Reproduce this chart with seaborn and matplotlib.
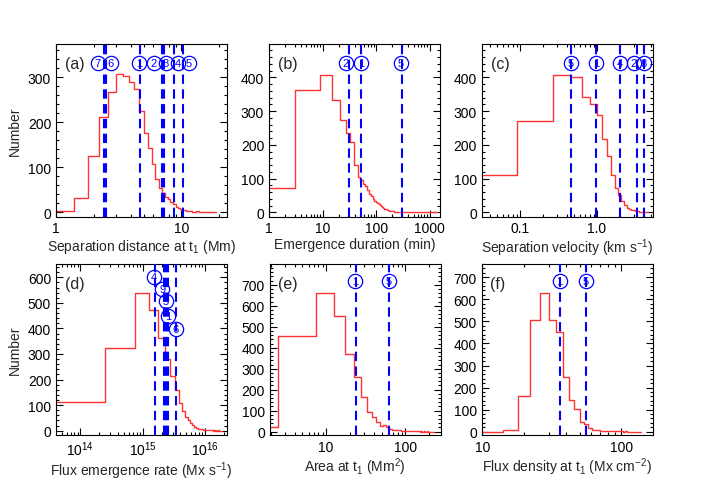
import numpy as np
import matplotlib.pyplot as plt
import seaborn as sns
from matplotlib.ticker import FixedLocator, FixedFormatter, LogLocator, NullFormatter, MultipleLocator

# (a) separation distance at t1 (Mm), linear bins of 0.4 starting at 1.0
sep_start, sep_width = 1.0, 0.4
sep_counts = [3, 32, 126, 213, 267, 307, 303, 289, 274, 225, 176, 143, 108, 74,
              55, 43, 34, 31, 24, 18, 13, 10, 8, 6, 5, 4, 3, 3, 2, 2,
              3, 3, 1, 1, 1, 2, 1, 1, 0, 1, 0, 1, 0, 0, 1]
sep_events = [7, 6, 1, 2, 3, 4, 5]
sep_lines = [2.40, 2.49, 4.70, 7.03, 7.28, 8.80, 10.25]

# (b) emergence duration (min), bins of 6 min centred on multiples of 6
dur_start, dur_width = -3, 6
dur_counts = [72, 362, 408, 332, 275, 236, 210, 140, 106, 95, 85, 77, 66, 56,
              48, 41, 35, 31, 27, 24, 21, 18, 15, 13, 11, 10, 9, 8, 6, 7,
              5, 4, 4, 3, 3, 3, 3, 2, 2, 2, 2, 1, 1, 2, 1, 1, 1, 0, 1, 1,
              0, 1, 0, 1, 0, 1]
dur_events = [2, 1, 5]
dur_lines = [31.2, 51.6, 298]

# (c) separation velocity (km/s), bins of 0.18
vel_start, vel_width = -0.09, 0.18
vel_counts = [111, 270, 408, 400, 341, 321, 289, 217, 166, 112, 73, 51, 34,
              21, 14, 11, 8, 6, 4, 3, 2, 2, 1, 1, 0, 1]
vel_events = [5, 1, 4, 2, 8]
vel_lines = [0.454, 0.98, 1.98, 3.32, 4.10]

# (d) flux emergence rate (Mx/s), bins of 5e14
rate_start, rate_width = -2.5e14, 5e14
rate_counts = [111, 323, 538, 472, 364, 280, 214, 159, 108, 75, 54, 40, 30,
               22, 15, 11, 8, 6, 5, 4, 3, 3, 2, 2, 1, 1, 1, 0, 1, 0, 1, 0,
               0, 1, 0, 0, 0, 0]
rate_events = [4, 9, 5, 1, 6]
rate_lines = [1.60e15, 2.17e15, 2.33e15, 2.51e15, 3.38e15]

# (e) area at t1 (Mm^2), bins of 5
area_start, area_width = -2.5, 5
area_counts = [22, 458, 660, 549, 371, 262, 164, 93, 69, 46, 25, 32, 20, 14,
               10, 9, 7, 6, 5, 4, 4, 3, 3, 2, 2, 2, 1, 1, 1, 1, 1, 0, 1,
               0, 0, 1, 0, 0, 1, 0, 0, 0, 0, 0, 0, 0]
area_events = [1, 5]
area_lines = [23.6, 62.5]

# (f) flux density at t1 (Mx/cm^2), bins of 4
dens_start, dens_width = 10, 4
dens_counts = [0, 8, 160, 505, 628, 507, 450, 250, 142, 104, 45, 34, 16, 9,
               6, 4, 3, 2, 2, 1, 1, 1, 1, 0, 1, 0, 0, 0, 0, 0, 0, 0]
dens_events = [1, 5]
dens_lines = [36.2, 55.6]


def bin_edges(start, width, counts, low=None):
    edges = start + width * np.arange(len(counts) + 1, dtype=float)
    if low is not None:
        edges[0] = low
    return edges


def draw_panel(ax, edges, counts, lines, events, lab_x, lab_y, xlim, ylim,
               majors, major_labels, xlabel, tag, ylabel=None):
    centers = np.sqrt(edges[:-1] * edges[1:])
    # bins given in log10 space because the axis is log scaled
    sns.histplot(x=centers, weights=counts, bins=list(np.log10(edges)), log_scale=True,
                 element='step', fill=False, color='#ff3333', linewidth=1.0, ax=ax)
    for xv in lines:
        ax.axvline(xv, color='blue', lw=1.5, ls=(0, (4.5, 2.6)), zorder=3)
    for xv, yv, n in zip(lab_x, lab_y, events):
        ax.plot(xv, yv, 'o', ms=10.3, mfc='none', mec='blue', mew=0.9, zorder=4)
        ax.text(xv, yv, str(n), color='blue', fontsize=8, ha='center',
                va='center', zorder=5)
    ax.set_xlim(*xlim)
    ax.set_ylim(*ylim)
    ax.xaxis.set_major_locator(FixedLocator(majors))
    ax.xaxis.set_major_formatter(FixedFormatter(major_labels))
    ax.xaxis.set_minor_locator(LogLocator(base=10, subs=np.arange(2, 10), numticks=30))
    ax.xaxis.set_minor_formatter(NullFormatter())
    ax.yaxis.set_major_locator(MultipleLocator(100))
    ax.yaxis.set_minor_locator(MultipleLocator(20))
    ax.tick_params(which='both', direction='in', top=True, right=True,
                   labelsize=10, width=0.8, colors='black')
    ax.tick_params(which='major', length=5)
    ax.tick_params(which='minor', length=2.5)
    ax.set_xlabel(xlabel, fontsize=10, labelpad=1)
    ax.set_ylabel(ylabel if ylabel else '', fontsize=10)
    ax.text(0.05, 0.885, tag, transform=ax.transAxes, fontsize=11.5, va='center')
    for sp in ax.spines.values():
        sp.set_linewidth(0.8)
        sp.set_color('black')


sns.set_style('ticks')
plt.rcParams['font.family'] = ['Liberation Sans', 'DejaVu Sans']
plt.rcParams['mathtext.default'] = 'regular'

fig = plt.figure(figsize=(7.09, 4.85), dpi=100)
w, h_top, h_bot = 0.2412, 0.3557, 0.3526
ax_a = fig.add_axes([0.0790, 0.5515, w, h_top])
ax_b = fig.add_axes([0.3794, 0.5515, w, h_top])
ax_c = fig.add_axes([0.6798, 0.5515, w, h_top])
ax_d = fig.add_axes([0.0790, 0.1010, w, h_bot])
ax_e = fig.add_axes([0.3804, 0.1010, w, h_bot])
ax_f = fig.add_axes([0.6794, 0.1010, w, h_bot])

draw_panel(ax_a, bin_edges(sep_start, sep_width, sep_counts), sep_counts,
           sep_lines, sep_events,
           [2.15, 2.73, 4.6, 6.05, 7.53, 9.38, 11.5], [331] * 7,
           (1, 23.2), (-9, 374), [1, 10], ['1', '10'],
           'Separation distance at t$_1$ (Mm)', '(a)', 'Number')

dur_edges = np.append(bin_edges(dur_start, dur_width, dur_counts, low=0.5), 1400)
draw_panel(ax_b, dur_edges, dur_counts + [0], dur_lines, dur_events,
           [27.4, 52.4, 290], [443] * 3,
           (1, 1560), (-12, 499), [1, 10, 100, 1000], ['1', '10', '100', '1000'],
           'Emergence duration (min)', '(b)')

draw_panel(ax_c, bin_edges(vel_start, vel_width, vel_counts, low=0.02), vel_counts,
           vel_lines, vel_events,
           [0.454, 0.98, 1.98, 3.04, 4.1], [443] * 5,
           (0.0316, 5.37), (-12, 499), [0.1, 1.0], ['0.1', '1.0'],
           'Separation velocity (km s$^{-1}$)', '(c)')

draw_panel(ax_d, bin_edges(rate_start, rate_width, rate_counts, low=1e13), rate_counts,
           rate_lines, rate_events,
           [1.52e15, 2.05e15, 2.33e15, 2.58e15, 3.4e15], [600, 554, 506, 450, 398],
           (4.05e13, 2.25e16), (-17, 652), [1e14, 1e15, 1e16],
           ['10$^{14}$', '10$^{15}$', '10$^{16}$'],
           'Flux emergence rate (Mx s$^{-1}$)', '(d)', 'Number')

draw_panel(ax_e, bin_edges(area_start, area_width, area_counts, low=1), area_counts,
           area_lines, area_events,
           [23.3, 62.0], [718] * 2,
           (1.94, 279), (-16, 799), [10, 100], ['10', '100'],
           'Area at t$_1$ (Mm$^2$)', '(e)')

draw_panel(ax_f, bin_edges(dens_start, dens_width, dens_counts), dens_counts,
           dens_lines, dens_events,
           [36.0, 55.4], [683] * 2,
           (9.9, 168), (-15, 760), [10, 100], ['10', '100'],
           'Flux density at t$_1$ (Mx cm$^{-2}$)', '(f)')

fig.savefig('out.png', dpi=100)
